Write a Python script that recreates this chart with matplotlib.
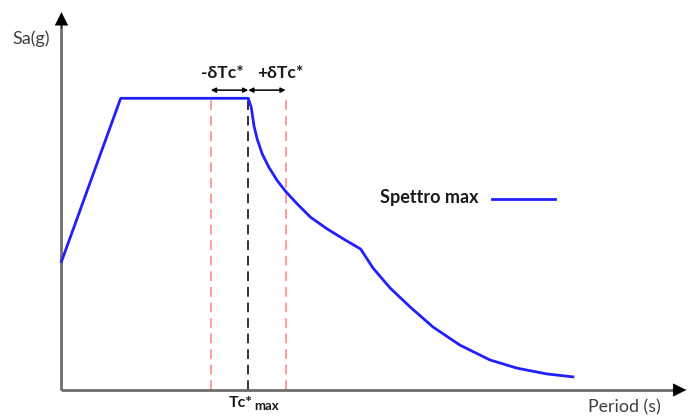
import matplotlib
matplotlib.use("Agg")
import matplotlib.pyplot as plt

# Design response spectrum (normalised units: period in s relative to Tc*max, Sa relative to plateau)
period = [0.0, 0.317, 1.0, 1.016, 1.031, 1.048, 1.075, 1.111, 1.155, 1.200,
          1.262, 1.334, 1.423, 1.512, 1.602, 1.668, 1.759, 1.866, 1.989, 2.133,
          2.294, 2.438, 2.599, 2.738]
sa = [0.44, 1.0, 1.0, 0.969, 0.905, 0.860, 0.809, 0.763, 0.718, 0.681,
      0.638, 0.592, 0.552, 0.517, 0.483, 0.418, 0.350, 0.285, 0.216, 0.154,
      0.103, 0.075, 0.055, 0.045]

tc_max = 1.0
delta_tc = [-0.2, 0.2]
series_label = "Spettro max"
x_label = "Period (s)"
y_label = "Sa(g)"

plt.rcParams["font.family"] = ["Lato", "DejaVu Sans"]

fig = plt.figure(figsize=(6.9, 4.17), dpi=100)
ax = fig.add_axes([0, 0, 1, 1])
ax.set_xlim(-0.329, 3.365)
ax.set_ylim(-0.0926, 1.337)
ax.axis("off")

axis_grey = "#6e6e6e"
# axes with arrowheads
ax.plot([0, 0], [0, 1.26], color=axis_grey, lw=2, solid_capstyle="butt", zorder=2)
ax.plot([0, 3.30], [0, 0], color=axis_grey, lw=2, solid_capstyle="butt", zorder=2)
ax.annotate("", xy=(0, 1.305), xytext=(0, 1.23),
            arrowprops=dict(arrowstyle="-|>", color="black", lw=0.5, mutation_scale=22))
ax.annotate("", xy=(3.36, 0), xytext=(3.28, 0),
            arrowprops=dict(arrowstyle="-|>", color="black", lw=0.5, mutation_scale=22))

# spectrum
ax.plot(period, sa, color="#2020ff", lw=2, zorder=3, solid_joinstyle="round")

# Tc*max and +/- delta lines
ax.plot([tc_max, tc_max], [0, 1.0], color="#333333", lw=1.4, dashes=(5, 3), zorder=1)
for d in delta_tc:
    ax.plot([tc_max + d, tc_max + d], [0, 0.995], color="#ff9c9c", lw=1.4,
            dashes=(5, 3), zorder=1)

arrow_y = 1.028
for d in delta_tc:
    ax.annotate("", xy=(tc_max + d, arrow_y), xytext=(tc_max, arrow_y),
                arrowprops=dict(arrowstyle="<|-|>", color="black", lw=1.1,
                                mutation_scale=7, shrinkA=0, shrinkB=0))

ax.text(tc_max + delta_tc[0] / 2 - 0.04, 1.088, "-δTc*", ha="center", va="center",
        fontsize=12.6, fontweight="bold", color="#1a1a1a")
ax.text(tc_max + delta_tc[1] / 2 + 0.07, 1.088, "+δTc*", ha="center", va="center",
        fontsize=12.6, fontweight="bold", color="#1a1a1a")

# Tc*max label under the axis
ax.text(tc_max + 0.025, -0.045, "Tc*", ha="right", va="center", fontsize=11.5,
        fontweight="bold", color="#1a1a1a")
ax.text(tc_max + 0.03, -0.055, "max", ha="left", va="center", fontsize=9.5,
        fontweight="bold", color="#1a1a1a")

# axis titles
ax.text(-0.26, 1.205, y_label, ha="left", va="center", fontsize=13, color="#404040")
ax.text(2.82, -0.058, x_label, ha="left", va="center", fontsize=12.8, color="#404040")

# legend entry
ax.text(1.705, 0.66, series_label, ha="left", va="center", fontsize=13,
        fontweight="bold", color="#1a1a1a")
ax.plot([2.305, 2.64], [0.654, 0.654], color="#2020ff", lw=2)

fig.savefig("out.png", dpi=100)
